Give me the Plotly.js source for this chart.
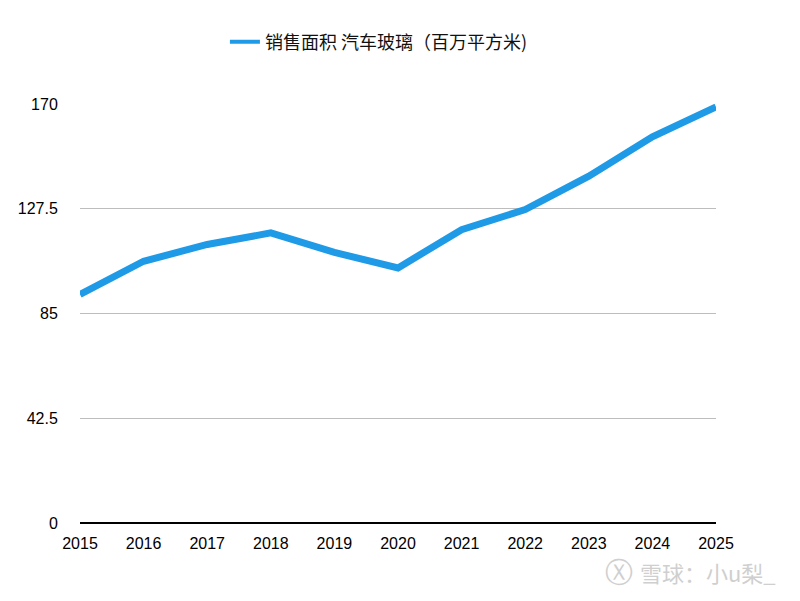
<!DOCTYPE html>
<html>
<head>
<meta charset="utf-8">
<script src="https://cdn.plot.ly/plotly-3.0.1.min.js"></script>
<style>html,body{margin:0;padding:0;background:#fff;}#chart{width:800px;height:601px;}</style>
</head>
<body>
<div id="chart"></div>
<script>
const years = [2015, 2016, 2017, 2018, 2019, 2020, 2021, 2022, 2023, 2024, 2025];
const salesArea = [92.7, 106.2, 113.0, 117.7, 109.8, 103.5, 119.0, 127.2, 140.7, 156.7, 168.8];
const seriesName = '销售面积 汽车玻璃（百万平方米)';
const yTicks = [0, 42.5, 85, 127.5, 170];
const yTickLabels = ['0', '42.5', '85', '127.5', '170'];
const lineColor = '#1f9ae6';

const trace = {
  x: years,
  y: salesArea,
  type: 'scatter',
  mode: 'lines',
  name: seriesName,
  showlegend: false,
  line: {color: lineColor, width: 7}
};
// legend entry with the thinner legend stroke of the original
const legendTrace = {
  x: [null],
  y: [null],
  type: 'scatter',
  mode: 'lines',
  name: seriesName,
  showlegend: true,
  line: {color: lineColor, width: 4}
};

const layout = {
  width: 800,
  height: 601,
  margin: {l: 80, r: 84, t: 104, b: 78},
  paper_bgcolor: '#ffffff',
  plot_bgcolor: '#ffffff',
  font: {family: 'Liberation Sans, Arial, "Noto Sans CJK SC", sans-serif', size: 16, color: '#000'},
  showlegend: true,
  legend: {
    orientation: 'h',
    x: 0.47, xanchor: 'center',
    y: 1.148, yanchor: 'middle',
    font: {size: 18, family: '"Noto Sans CJK SC", sans-serif', color: '#111'},
    itemwidth: 30
  },
  xaxis: {
    range: [2015, 2025],
    tickmode: 'array',
    tickvals: years,
    ticktext: years.map(String),
    showgrid: false,
    zeroline: false,
    showline: false,
    ticks: 'outside',
    ticklen: 6,
    tickcolor: 'rgba(0,0,0,0)',
    tickfont: {size: 16}
  },
  yaxis: {
    range: [0, 170],
    tickmode: 'array',
    tickvals: yTicks,
    ticktext: yTickLabels,
    showgrid: true,
    gridcolor: '#bdbdbd',
    gridwidth: 1,
    zeroline: true,
    zerolinecolor: '#000',
    zerolinewidth: 2,
    showline: false,
    ticks: 'outside',
    ticklen: 18,
    tickcolor: 'rgba(0,0,0,0)',
    tickfont: {size: 16}
  },
  annotations: [{
    text: '雪球：小u梨_',
    xref: 'paper', yref: 'paper',
    x: 1.0975, y: -0.118,
    xanchor: 'right', yanchor: 'middle',
    showarrow: false,
    font: {size: 22, color: '#cfcfcf', family: '"Noto Sans CJK SC", sans-serif'}
  }, {
    text: 'Ⓧ',
    xref: 'paper', yref: 'paper',
    x: 0.848, y: -0.118,
    xanchor: 'center', yanchor: 'middle',
    showarrow: false,
    font: {size: 28, color: '#cfcfcf', family: 'DejaVu Sans, sans-serif'}
  }]
};

Plotly.newPlot('chart', [trace, legendTrace], layout, {displayModeBar: false, staticPlot: true});
</script>
</body>
</html>
